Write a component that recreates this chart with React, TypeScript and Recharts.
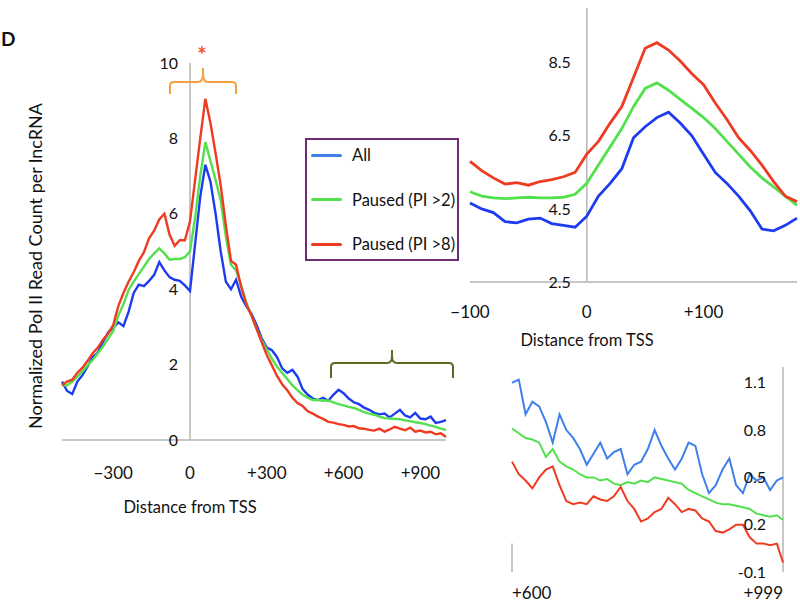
import React from "react";
import { LineChart, Line, XAxis, YAxis, ReferenceLine } from "recharts";

const FONT = "Lato, 'Open Sans', sans-serif";
const BLUE = "#1d3cf0";
const BLUE_LIGHT = "#3f80ea";
const GREEN = "#52e04c";
const RED = "#ef3b22";
const AXIS = "#b5b5b5";

// main profile, -500..+1000 bp around TSS
const MAIN_X = [
  -500, -480, -460, -440, -420, -400, -380, -360, -340, -320, -300, -280, -260, -240, -220, -200,
  -180, -160, -140, -120, -100, -80, -60, -40, -20, 0, 20, 40, 60, 80, 100, 120, 140, 160, 180,
  200, 220, 240, 260, 280, 300, 320, 340, 360, 380, 400, 420, 440, 460, 480, 500, 520, 540, 560,
  580, 600, 620, 640, 660, 680, 700, 720, 740, 760, 780, 800, 820, 840, 860, 880, 900, 920, 940,
  960, 980, 1000,
];
const MAIN_ALL = [
  1.55, 1.3, 1.22, 1.55, 1.72, 1.95, 2.2, 2.32, 2.6, 2.85, 2.98, 3.12, 3.02, 3.4, 3.9, 4.12, 4.08,
  4.22, 4.38, 4.72, 4.5, 4.32, 4.25, 4.22, 4.1, 3.95, 5.2, 6.45, 7.3, 6.85, 6.0, 5.0, 4.2, 4.0,
  4.25, 3.8, 3.55, 3.35, 3.05, 2.7, 2.45, 2.38, 2.2, 1.9, 1.78, 1.86, 1.68, 1.35, 1.2, 1.1, 1.06,
  1.12, 1.04, 1.2, 1.33, 1.24, 1.1, 1.0, 0.95, 0.86, 0.8, 0.72, 0.68, 0.7, 0.6, 0.7, 0.8, 0.65,
  0.6, 0.72, 0.57, 0.55, 0.62, 0.45, 0.48, 0.53,
];
const MAIN_PI2 = [
  1.45, 1.45, 1.55, 1.68, 1.82, 1.98, 2.12, 2.3, 2.48, 2.68, 2.9, 3.3, 3.6, 3.98, 4.2, 4.4, 4.6,
  4.8, 4.95, 5.08, 4.95, 4.78, 4.8, 4.8, 4.85, 5.0, 5.9, 7.0, 7.9, 7.4, 6.9, 6.35, 5.4, 4.65, 4.5,
  4.1, 3.65, 3.3, 2.95, 2.65, 2.4, 2.15, 1.95, 1.78, 1.62, 1.45, 1.32, 1.2, 1.12, 1.06, 1.06, 1.04,
  1.05, 1.0, 0.95, 0.92, 0.88, 0.85, 0.8, 0.74, 0.7, 0.67, 0.62, 0.58, 0.57, 0.56, 0.55, 0.52,
  0.5, 0.47, 0.45, 0.42, 0.38, 0.35, 0.3, 0.27,
];
const MAIN_PI8 = [
  1.45, 1.55, 1.6, 1.78, 1.92, 2.1, 2.3, 2.45, 2.66, 2.82, 3.05, 3.55, 3.9, 4.2, 4.45, 4.75, 4.98,
  5.35, 5.55, 5.85, 6.0, 5.45, 5.15, 5.3, 5.3, 5.8, 6.9, 8.0, 9.05, 8.4, 7.6, 6.75, 5.7, 4.75,
  4.65, 4.05, 3.6, 3.3, 2.95, 2.6, 2.25, 1.98, 1.7, 1.48, 1.32, 1.12, 0.98, 0.9, 0.76, 0.7, 0.62,
  0.56, 0.48, 0.46, 0.42, 0.4, 0.36, 0.37, 0.31, 0.3, 0.27, 0.25, 0.3, 0.22, 0.28, 0.35, 0.3, 0.26,
  0.33, 0.22, 0.25, 0.2, 0.22, 0.15, 0.18, 0.08,
];
const MAIN_TICKS_X = [-300, 0, 300, 600, 900];
const MAIN_TICKS_Y = [0, 2, 4, 6, 8, 10];

// zoom around the TSS
const TSS_X = [
  -100, -90, -80, -70, -60, -50, -40, -30, -20, -10, 0, 10, 20, 30, 40, 50, 60, 70, 80, 90, 100,
  110, 120, 130, 140, 150, 160, 170, 180,
];
const TSS_ALL = [
  4.66, 4.5, 4.4, 4.15, 4.12, 4.22, 4.25, 4.1, 4.05, 4.0, 4.3, 4.85, 5.2, 5.6, 6.45, 6.75, 7.0,
  7.15, 6.85, 6.5, 6.0, 5.5, 5.2, 4.85, 4.45, 3.95, 3.9, 4.05, 4.25,
];
const TSS_PI2 = [
  4.97, 4.85, 4.8, 4.78, 4.8, 4.82, 4.8, 4.8, 4.82, 4.9, 5.2, 5.7, 6.2, 6.7, 7.3, 7.8, 7.95, 7.75,
  7.5, 7.25, 7.0, 6.7, 6.35, 6.0, 5.65, 5.35, 5.1, 4.85, 4.6,
];
const TSS_PI8 = [
  5.8, 5.55, 5.35, 5.18, 5.22, 5.15, 5.25, 5.3, 5.38, 5.5, 6.0, 6.35, 6.85, 7.3, 8.1, 8.9, 9.05,
  8.85, 8.55, 8.2, 7.9, 7.4, 6.95, 6.45, 6.1, 5.7, 5.25, 4.85, 4.7,
];
const TSS_TICKS_X = [-100, 0, 100];
const TSS_TICKS_Y = [2.5, 4.5, 6.5, 8.5];

// zoom on the gene body tail
const TAIL_X = [
  600, 610, 620, 630, 640, 650, 660, 670, 680, 690, 700, 710, 720, 730, 740, 750, 760, 770, 780,
  790, 800, 810, 820, 830, 840, 850, 860, 870, 880, 890, 900, 910, 920, 930, 940, 950, 960, 970,
  980, 990, 999,
];
const TAIL_ALL = [
  1.1, 1.12, 0.9, 0.98, 0.95, 0.85, 0.72, 0.9, 0.8, 0.75, 0.68, 0.58, 0.65, 0.72, 0.62, 0.66,
  0.68, 0.52, 0.58, 0.6, 0.68, 0.8, 0.7, 0.62, 0.55, 0.62, 0.72, 0.7, 0.52, 0.4, 0.45, 0.55, 0.62,
  0.45, 0.4, 0.52, 0.48, 0.5, 0.42, 0.48, 0.5,
];
const TAIL_PI2 = [
  0.81, 0.78, 0.75, 0.74, 0.72, 0.63, 0.68, 0.6, 0.57, 0.55, 0.52, 0.5, 0.5, 0.48, 0.49, 0.46,
  0.45, 0.47, 0.46, 0.48, 0.47, 0.5, 0.49, 0.48, 0.47, 0.46, 0.42, 0.4, 0.38, 0.36, 0.34, 0.33,
  0.33, 0.32, 0.31, 0.3, 0.27, 0.26, 0.25, 0.26, 0.23,
];
const TAIL_PI8 = [
  0.6, 0.52, 0.48, 0.43, 0.5, 0.55, 0.57, 0.45, 0.35, 0.33, 0.34, 0.33, 0.38, 0.36, 0.35, 0.38,
  0.44, 0.35, 0.3, 0.22, 0.24, 0.28, 0.3, 0.37, 0.33, 0.28, 0.3, 0.29, 0.24, 0.22, 0.16, 0.15,
  0.17, 0.2, 0.2, 0.12, 0.08, 0.08, 0.07, 0.08, -0.04,
];
const TAIL_TICKS_X = [600, 999];
const TAIL_TICKS_Y = [-0.1, 0.2, 0.5, 0.8, 1.1];

const LEGEND = [
  { name: "All", color: BLUE_LIGHT },
  { name: "Paused (PI >2)", color: GREEN },
  { name: "Paused (PI >8)", color: RED },
];

const rows = (xs: number[], a: number[], b: number[], c: number[]) =>
  xs.map((x, i) => ({ x, all: a[i], pi2: b[i], pi8: c[i] }));

const signed = (v: number) => (v > 0 ? `+${v}` : v < 0 ? `\u2212${Math.abs(v)}` : "0");

const tickText = { fontFamily: FONT, fill: "#111" };

function MainChart() {
  const W = 460;
  const H = 530;
  const margin = { top: 63, right: 14, left: 61, bottom: 0 };
  const yAxisW = 1;
  const xDomain = [-500, 1000];
  const plotLeft = margin.left + yAxisW;
  const plotW = W - plotLeft - margin.right;
  const zeroX = plotLeft + (plotW * (0 - xDomain[0])) / (xDomain[1] - xDomain[0]);
  const data = rows(MAIN_X, MAIN_ALL, MAIN_PI2, MAIN_PI8);
  return (
    <div style={{ position: "absolute", left: 0, top: 0 }}>
      <LineChart width={W} height={H} data={data} margin={margin}>
        <XAxis
          dataKey="x"
          type="number"
          domain={xDomain}
          ticks={MAIN_TICKS_X}
          height={90}
          axisLine={false}
          tickLine={false}
          tick={(p: any) => (
            <text x={p.x} y={473} dy="0.35em" textAnchor="middle" fontSize={17} {...tickText}>
              {signed(p.payload.value)}
            </text>
          )}
        />
        <YAxis
          type="number"
          domain={[0, 10]}
          ticks={MAIN_TICKS_Y}
          interval={0}
          width={yAxisW}
          axisLine={false}
          tickLine={false}
          tick={(p: any) => (
            <text x={zeroX - 12} y={p.y} dy="0.35em" textAnchor="end" fontSize={16} {...tickText}>
              {p.payload.value}
            </text>
          )}
        />
        <ReferenceLine x={0} stroke={AXIS} strokeWidth={1.5} />
        <ReferenceLine y={0} stroke={AXIS} strokeWidth={1.5} />
        <Line dataKey="all" stroke={BLUE} strokeWidth={2.4} dot={false} isAnimationActive={false} />
        <Line dataKey="pi2" stroke={GREEN} strokeWidth={2.4} dot={false} isAnimationActive={false} />
        <Line dataKey="pi8" stroke={RED} strokeWidth={2.4} dot={false} isAnimationActive={false} />
      </LineChart>
    </div>
  );
}

function TssChart() {
  const LEFT = 440;
  const W = 360;
  const H = 360;
  const margin = { top: 8, right: 3, left: 29, bottom: 0 };
  const yAxisW = 1;
  const xDomain = [-100, 180];
  const plotLeft = margin.left + yAxisW;
  const plotW = W - plotLeft - margin.right;
  const zeroX = plotLeft + (plotW * (0 - xDomain[0])) / (xDomain[1] - xDomain[0]);
  const data = rows(TSS_X, TSS_ALL, TSS_PI2, TSS_PI8);
  return (
    <div style={{ position: "absolute", left: LEFT, top: 0 }}>
      <LineChart width={W} height={H} data={data} margin={margin}>
        <XAxis
          dataKey="x"
          type="number"
          domain={xDomain}
          ticks={TSS_TICKS_X}
          height={78}
          axisLine={false}
          tickLine={false}
          tick={(p: any) => (
            <text x={p.x} y={312} dy="0.35em" textAnchor="middle" fontSize={17} {...tickText}>
              {signed(p.payload.value)}
            </text>
          )}
        />
        <YAxis
          type="number"
          domain={[2.5, 10]}
          ticks={TSS_TICKS_Y}
          interval={0}
          width={yAxisW}
          axisLine={false}
          tickLine={false}
          tick={(p: any) => (
            <text x={zeroX - 16} y={p.y} dy="0.35em" textAnchor="end" fontSize={16} {...tickText}>
              {p.payload.value}
            </text>
          )}
        />
        <ReferenceLine x={0} stroke={AXIS} strokeWidth={1.5} />
        <ReferenceLine y={2.5} stroke={AXIS} strokeWidth={1.5} />
        <Line dataKey="all" stroke={BLUE} strokeWidth={2.8} dot={false} isAnimationActive={false} />
        <Line dataKey="pi2" stroke={GREEN} strokeWidth={2.8} dot={false} isAnimationActive={false} />
        <Line dataKey="pi8" stroke={RED} strokeWidth={2.8} dot={false} isAnimationActive={false} />
      </LineChart>
    </div>
  );
}

function TailChart() {
  const LEFT = 490;
  const TOP = 340;
  const W = 310;
  const H = 264;
  const margin = { top: 27, right: 17, left: 21, bottom: 0 };
  const data = rows(TAIL_X, TAIL_ALL, TAIL_PI2, TAIL_PI8);
  const rightX = W - margin.right;
  return (
    <div style={{ position: "absolute", left: LEFT, top: TOP }}>
      <LineChart width={W} height={H} data={data} margin={margin}>
        <XAxis
          dataKey="x"
          type="number"
          domain={[600, 999]}
          ticks={TAIL_TICKS_X}
          height={32}
          axisLine={false}
          tickLine={false}
          tick={(p: any) => (
            <text
              x={p.x}
              y={253}
              dy="0.35em"
              textAnchor={p.payload.value === 600 ? "start" : "end"}
              fontSize={17}
              {...tickText}
            >
              {signed(p.payload.value)}
            </text>
          )}
        />
        <YAxis
          type="number"
          domain={[-0.1, 1.2]}
          ticks={TAIL_TICKS_Y}
          interval={0}
          width={1}
          axisLine={false}
          tickLine={false}
          tick={(p: any) => (
            <text x={rightX - 17} y={p.y} dy="0.35em" textAnchor="end" fontSize={16} {...tickText}>
              {p.payload.value < 0 ? `-${Math.abs(p.payload.value)}` : p.payload.value}
            </text>
          )}
        />
        <ReferenceLine x={999} stroke={AXIS} strokeWidth={1.5} />
        <ReferenceLine
          segment={[
            { x: 600, y: -0.1 },
            { x: 600, y: 0.08 },
          ]}
          stroke={AXIS}
          strokeWidth={1.5}
        />
        <Line dataKey="all" stroke={BLUE_LIGHT} strokeWidth={2} dot={false} isAnimationActive={false} />
        <Line dataKey="pi2" stroke={GREEN} strokeWidth={2} dot={false} isAnimationActive={false} />
        <Line dataKey="pi8" stroke={RED} strokeWidth={2} dot={false} isAnimationActive={false} />
      </LineChart>
    </div>
  );
}

function Legend() {
  return (
    <div
      style={{
        position: "absolute",
        left: 305,
        top: 138,
        width: 150,
        height: 119,
        border: "2px solid #6d2c70",
        background: "#fff",
      }}
    >
      {LEGEND.map((item, i) => (
        <div
          key={item.name}
          style={{ position: "absolute", left: 4, top: 4 + i * 44.5, display: "flex", alignItems: "center" }}
        >
          <div style={{ width: 31, height: 3, background: item.color, borderRadius: 2 }} />
          <span style={{ marginLeft: 10, fontSize: 16.5, fontFamily: FONT, color: "#111", lineHeight: "22px" }}>
            {item.name}
          </span>
        </div>
      ))}
    </div>
  );
}

// decorations: region brackets and the asterisk over the pause peak
function Brackets() {
  return (
    <svg width={800} height={604} style={{ position: "absolute", left: 0, top: 0, pointerEvents: "none" }}>
      <path
        d="M170,94 L170,86 Q170,82 174,82 L198,82 Q203,82 203,73 L203,68 L203,73 Q203,82 208,82 L232,82 Q236,82 236,86 L236,94"
        fill="none"
        stroke="#f4a040"
        strokeWidth={2}
      />
      <text x={202} y={63} textAnchor="middle" fontSize={22} fontWeight={700} fill="#f0562a" fontFamily={FONT}>
        *
      </text>
      <path
        d="M331,378 L331,367 Q331,363 335,363 L387,363 Q392,363 392,356 L392,350 L392,356 Q392,363 397,363 L449,363 Q453,363 453,367 L453,378"
        fill="none"
        stroke="#5d6b22"
        strokeWidth={2}
      />
    </svg>
  );
}

const labelStyle: React.CSSProperties = {
  position: "absolute",
  transform: "translate(-50%, -50%)",
  whiteSpace: "nowrap",
  fontSize: 16.5,
  color: "#111",
};

export default function App() {
  return (
    <div style={{ position: "absolute", left: 0, top: 0, width: 800, height: 604, background: "#fff", fontFamily: FONT }}>
      <MainChart />
      <TssChart />
      <TailChart />
      <Brackets />
      <Legend />
      <div style={{ position: "absolute", left: 1, top: 27, fontSize: 19, fontWeight: 700, color: "#111" }}>D</div>
      <div
        style={{
          ...labelStyle,
          left: 35,
          top: 266,
          transform: "translate(-50%, -50%) rotate(-90deg)",
          fontSize: 18,
        }}
      >
        Normalized Pol II Read Count per lncRNA
      </div>
      <div style={{ ...labelStyle, left: 190, top: 507 }}>Distance from TSS</div>
      <div style={{ ...labelStyle, left: 587, top: 340 }}>Distance from TSS</div>
    </div>
  );
}
